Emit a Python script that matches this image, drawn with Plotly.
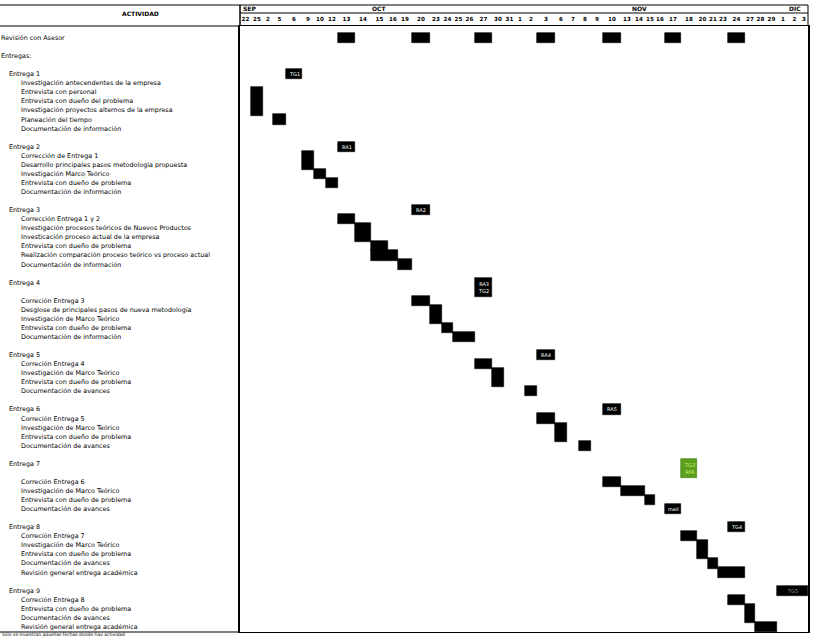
import plotly.graph_objects as go

# ---------------- data ----------------
month_names = ["SEP", "OCT", "NOV", "DIC"]
month_label_col = [0, 10, 30, 43]         # column under which each month name sits
day_labels = ["22", "25", "2", "5", "6", "9", "10", "12", "13", "14", "15", "16", "19", "20",
              "23", "24", "25", "26", "27", "30", "31", "1", "2", "3", "6", "7", "8", "9",
              "10", "13", "14", "15", "16", "17", "18", "20", "21", "23", "24", "27", "28",
              "29", "1", "2", "3"]

row_labels = [
    "Revisión con Asesor", "", "Entregas:", "",
    "Entrega 1",
    "Investigación antecendentes de la empresa",
    "Entrevista con personal",
    "Entrevista con dueño del problema",
    "Investigación proyectos alternos de la empresa",
    "Planeación del tiempo",
    "Documentación de información", "",
    "Entrega 2",
    "Corrección de Entrega 1",
    "Desarrollo principales pasos metodología propuesta",
    "Investigación Marco Teórico",
    "Entrevista con dueño de problema",
    "Documentación de información", "",
    "Entrega 3",
    "Corrección Entrega 1 y 2",
    "Investigación procesos teóricos de Nuevos Productos",
    "Investicación proceso actual de la empresa",
    "Entrevista con dueño de problema",
    "Realización comparación proceso teórico vs proceso actual",
    "Documentación de información", "",
    "Entrega 4", "",
    "Correción Entrega 3",
    "Desglose de principales pasos de nueva metodología",
    "Investigación de Marco Teórico",
    "Entrevista con dueño de problema",
    "Documentación de información", "",
    "Entrega 5",
    "Correción Entrega 4",
    "Investigación de Marco Teórico",
    "Entrevista con dueño de problema",
    "Documentación de avances", "",
    "Entrega 6",
    "Correción Entrega 5",
    "Investigación de Marco Teórico",
    "Entrevista con dueño de problema",
    "Documentación de avances", "",
    "Entrega 7", "",
    "Correción Entrega 6",
    "Investigación de Marco Teórico",
    "Entrevista con dueño de problema",
    "Documentación de avances", "",
    "Entrega 8",
    "Correción Entrega 7",
    "Investigación de Marco Teórico",
    "Entrevista con dueño de problema",
    "Documentación de avances",
    "Revisión general entrega académica", "",
    "Entrega 9",
    "Correción Entrega 8",
    "Entrevista con dueño de problema",
    "Documentación de avances",
    "Revisión general entrega académica",
]
row_levels = [0 if l in ("Revisión con Asesor", "Entregas:") else
              (1 if l.startswith("Entrega ") else 2) for l in row_labels]

# activity bars: first row, last row, first column, last column
task_row_start = [0, 0, 0, 0, 0, 0, 0,
                  6, 9,
                  13, 15, 16,
                  20, 21, 23, 24, 25,
                  29, 30, 32, 33,
                  36, 37, 39,
                  42, 43, 45,
                  49, 50, 51,
                  55, 56, 58, 59,
                  62, 63, 65]
task_row_end = [0, 0, 0, 0, 0, 0, 0,
                8, 9,
                14, 15, 16,
                20, 22, 23, 24, 25,
                29, 31, 32, 33,
                36, 38, 39,
                42, 44, 45,
                49, 50, 51,
                55, 57, 58, 59,
                62, 64, 65]
task_col_start = [8, 13, 18, 23, 28, 33, 38,
                  1, 3,
                  5, 6, 7,
                  8, 9, 10, 10, 12,
                  13, 14, 15, 16,
                  18, 19, 22,
                  23, 24, 26,
                  28, 29, 31,
                  34, 35, 36, 37,
                  38, 39, 40]
task_col_end = [8, 13, 18, 23, 28, 33, 38,
                1, 3,
                5, 6, 7,
                8, 9, 10, 11, 12,
                13, 14, 15, 17,
                18, 19, 22,
                23, 24, 26,
                28, 30, 31,
                34, 35, 36, 38,
                38, 39, 41]

# milestone tags
tag_text = ["TG1", "RA1", "RA2", "RA3<br>TG2", "RA4", "RA5", "TG3<br>RFA", "mail", "TG4", "TG5"]
tag_row_start = [4, 12, 19, 27, 35, 41, 47, 52, 54, 61]
tag_row_end = [4, 12, 19, 28, 35, 41, 48, 52, 54, 61]
tag_col_start = [4, 8, 13, 18, 23, 28, 34, 33, 38, 42]
tag_col_end = [4, 8, 13, 18, 23, 28, 34, 33, 38, 44]
tag_highlight = [False, False, False, False, False, False, True, False, False, False]

footnote = "Sólo se muestran aquellas fechas donde hay actividad"

# ---------------- layout helpers ----------------
COL_W = [11, 12, 10, 13, 16, 12, 12, 12, 17, 16, 17, 10, 14, 18, 12, 11, 11, 11, 17, 12,
         11, 10, 12, 18, 12, 12, 12, 12, 18, 12, 12, 10, 10, 16, 16, 11, 10, 10, 17, 10,
         11, 11, 12, 11, 8]
edges = [0]
for w in COL_W:
    edges.append(edges[-1] + w)
centers = [(edges[i] + edges[i + 1]) / 2 for i in range(len(COL_W))]

W, H = 815, 636
ML, MR, MT, MB = 240, 7, 26, 4
PW, PH = W - ML - MR, H - MT - MB
ROW_PX = 9.06
Y_TOP = -(38 - MT) / ROW_PX
Y_BOT = Y_TOP + PH / ROW_PX


def px_x(p):  # pixel x -> paper x
    return (p - ML) / PW


def px_y(p):  # pixel y -> paper y
    return (H - MB - p) / PH


FONT = "DejaVu Sans"

fig = go.Figure()


def bars(rs, re, cs, ce, colors, lines):
    y = [(a + b) / 2 for a, b in zip(rs, re)]
    h = [b - a + 1.12 for a, b in zip(rs, re)]
    base = [edges[c] for c in cs]
    length = [edges[c2 + 1] - edges[c1] for c1, c2 in zip(cs, ce)]
    fig.add_trace(go.Bar(orientation="h", y=y, x=length, base=base, width=h,
                         marker=dict(color=colors, line=dict(color=lines, width=0.6)),
                         showlegend=False, hoverinfo="skip"))


bars(task_row_start, task_row_end, task_col_start, task_col_end, "black", "black")
bars(tag_row_start, tag_row_end, tag_col_start, tag_col_end,
     ["#5c9e1e" if g else "black" for g in tag_highlight],
     ["#3d7a10" if g else "black" for g in tag_highlight])

ann = []
# tag texts
for t, rs, re, cs, ce, g in zip(tag_text, tag_row_start, tag_row_end, tag_col_start,
                                tag_col_end, tag_highlight):
    ann.append(dict(x=(edges[cs] + edges[ce + 1]) / 2, y=(rs + re) / 2, xref="x", yref="y",
                    text=t, showarrow=False,
                    font=dict(family=FONT, size=5,
                              color="#c9f06a" if g else ("#9a9a9a" if t == "TG5" else "white"))))

# row labels
indent_px = [-1, 7, 19]
for i, (lab, lev) in enumerate(zip(row_labels, row_levels)):
    if not lab:
        continue
    ann.append(dict(x=px_x(indent_px[lev]), y=i, xref="paper", yref="y", xanchor="left",
                    yanchor="middle", text=lab, showarrow=False,
                    font=dict(family=FONT, size=6.4, color="black")))

# header
ann.append(dict(x=px_x(120), y=px_y(14), xref="paper", yref="paper", yanchor="middle",
                text="<b>ACTIVIDAD</b>",
                showarrow=False, font=dict(family=FONT, size=6, color="black")))
for name, col in zip(month_names, month_label_col):
    if name == "SEP":
        ann.append(dict(x=edges[0] + 1, y=px_y(8.5), xref="x", yref="paper", xanchor="left",
                        yanchor="middle", text="<b>" + name + "</b>", showarrow=False,
                        font=dict(family=FONT, size=6, color="black")))
    else:
        ann.append(dict(x=centers[col], y=px_y(8.5), xref="x", yref="paper",
                        yanchor="middle", text="<b>" + name + "</b>", showarrow=False,
                        font=dict(family=FONT, size=6, color="black")))
ann.append(dict(x=px_x(0), y=px_y(634.5), xref="paper", yref="paper", xanchor="left",
                yanchor="middle", text=footnote, showarrow=False,
                font=dict(family=FONT, size=4.5, color="black")))

shapes = [
    dict(type="line", xref="paper", yref="paper", x0=px_x(0), x1=1, y0=px_y(5), y1=px_y(5),
         line=dict(color="black", width=1)),
    dict(type="line", xref="paper", yref="paper", x0=0, x1=1, y0=px_y(13), y1=px_y(13),
         line=dict(color="black", width=1)),
    dict(type="line", xref="paper", yref="paper", x0=px_x(0), x1=0, y0=1, y1=1,
         line=dict(color="black", width=1)),
    dict(type="line", xref="paper", yref="paper", x0=0, x1=0, y0=1, y1=px_y(5),
         line=dict(color="black", width=1.5)),
    dict(type="line", xref="paper", yref="paper", x0=1, x1=1, y0=1, y1=px_y(5),
         line=dict(color="black", width=1)),
    dict(type="line", xref="paper", yref="paper", x0=px_x(0), x1=0, y0=0, y1=0,
         line=dict(color="black", width=1)),
]

fig.update_layout(
    width=W, height=H,
    margin=dict(l=ML, r=MR, t=MT, b=MB, pad=0),
    paper_bgcolor="white", plot_bgcolor="white",
    barmode="overlay", bargap=0,
    annotations=ann, shapes=shapes,
    xaxis=dict(range=[0, edges[-1]], side="top", tickmode="array", tickvals=centers,
               ticktext=day_labels, ticks="", showgrid=False, zeroline=False,
               showline=True, mirror=True, linecolor="black", linewidth=1,
               tickangle=0,
               tickfont=dict(family=FONT, size=5.6, color="black", weight="bold"),
               ticklabelstandoff=2, fixedrange=True),
    yaxis=dict(range=[Y_BOT, Y_TOP], showticklabels=False, ticks="", showgrid=False,
               zeroline=False, showline=True, mirror=True, linecolor="black", linewidth=1.5,
               fixedrange=True),
)

fig.write_html("out.html")
